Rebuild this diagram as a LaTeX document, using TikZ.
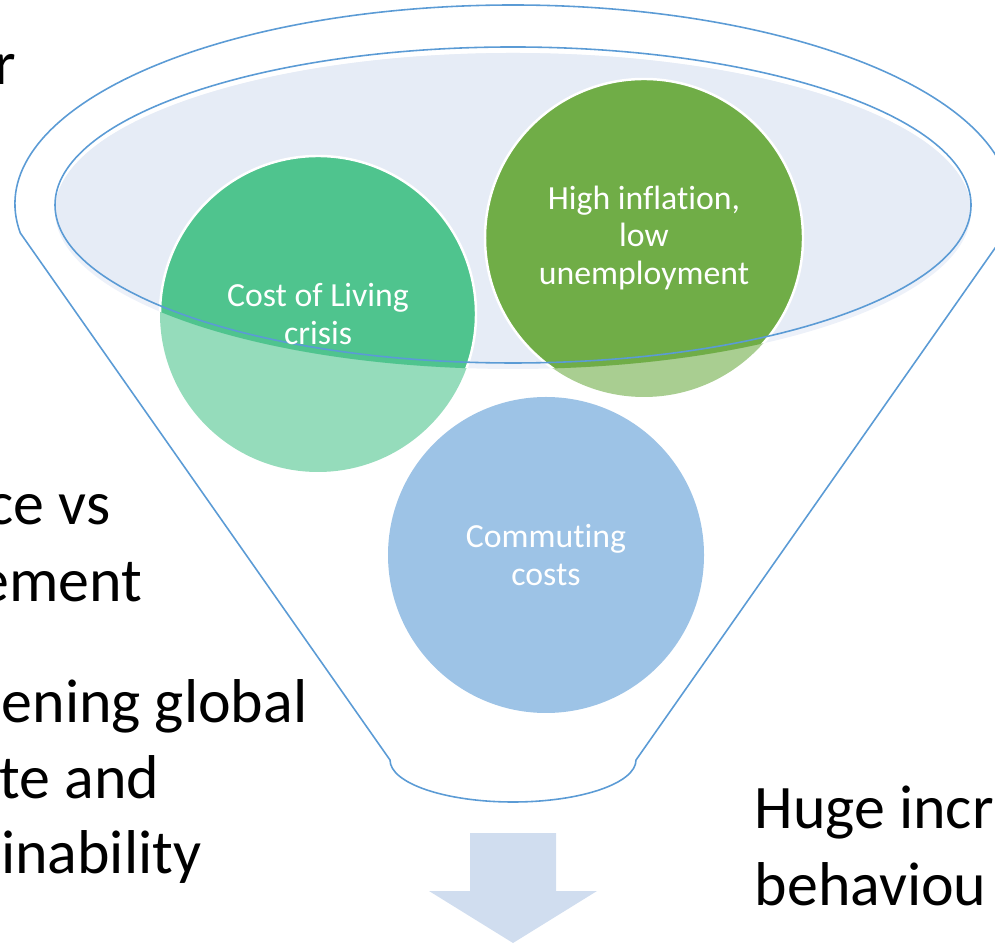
\documentclass[tikz,border=0pt]{standalone}
\usepackage{fontspec}
\setmainfont{Carlito}[Ligatures=CommonOff]

\definecolor{funnelblue}{HTML}{5B9BD5}
\definecolor{bowlfill}{HTML}{E6ECF6}
\definecolor{bowlshade}{HTML}{EDF1F9}
\definecolor{costgreen}{HTML}{4FC48E}
\definecolor{inflgreen}{HTML}{70AD47}
\definecolor{commblue}{HTML}{5B9BD5}
\definecolor{arrowfill}{HTML}{D0DDEF}

\begin{document}
\begin{tikzpicture}[
  x=0.01cm,
  y=0.01cm,
  funnel line/.style={draw=funnelblue,line width=0.45pt},
  bubble text/.style={text=white,align=center,inner sep=0pt,font=\fontsize{9.6}{10.8}\selectfont},
  side text/.style={inner sep=0pt,font=\fontsize{17.6}{21.9}\selectfont},
]
\useasboundingbox (0,0) rectangle (995,946);
\clip (0,0) rectangle (995,946);
\coordinate (rim) at (513,741);
\coordinate (bowl) at (513,735);
\coordinate (cost) at (318,632);
\coordinate (infl) at (644,708);
\coordinate (comm) at (546,391);

\draw[funnel line] (20.3,713) arc[start angle=188.38,end angle=-8.38,x radius=498,y radius=199]
  -- (636,186) arc[start angle=0,end angle=-180,x radius=123,y radius=42] -- cycle;
\fill[bowlshade] (bowl) ellipse[x radius=458,y radius=158];
\begin{scope}
  \clip (bowl) ellipse[x radius=458,y radius=158];
  \fill[bowlfill] (rim) ellipse[x radius=458,y radius=158];
\end{scope}

\foreach \c/\r/\col in {cost/158/costgreen,infl/159/inflgreen,comm/158/commblue}
  \fill[\col,opacity=.6] (\c) circle[radius=\r];
\begin{scope}
  \clip (bowl) ellipse[x radius=458,y radius=158];
  \foreach \c/\r/\col in {cost/158/costgreen,infl/159/inflgreen}
    \filldraw[fill=\col,draw=white,line width=0.7pt] (\c) circle[radius=\r];
\end{scope}
\draw[funnel line] (rim) ellipse[x radius=458,y radius=158];

\node[bubble text] (costtxt) at (cost) {Cost of Living\\crisis};
\node[bubble text] (infltxt) at (infl) {High inflation,\\low\\unemployment};
\node[bubble text] (commtxt) at (comm) {Commuting\\costs};

\fill[arrowfill] (470,113) -- (556,113) -- (556,55) -- (597,55) -- (513,3) -- (429,55) -- (470,55) -- cycle;

\node[side text,anchor=base east] (l1) at (17,861) {r};
\node[side text,anchor=base east] (l2) at (111,421) {ce vs};
\node[side text,anchor=base east] (l3) at (143,344) {ement};
\node[side text,anchor=base east] (l4) at (308,223) {ening global};
\node[side text,anchor=base east] (l5) at (160,148) {te and};
\node[side text,anchor=base east] (l6) at (202,73) {inability};
\node[side text,anchor=base west] (r1) at (754,118) {Huge incr};
\node[side text,anchor=base west] (r2) at (754,41) {behaviou};
\end{tikzpicture}
\end{document}
